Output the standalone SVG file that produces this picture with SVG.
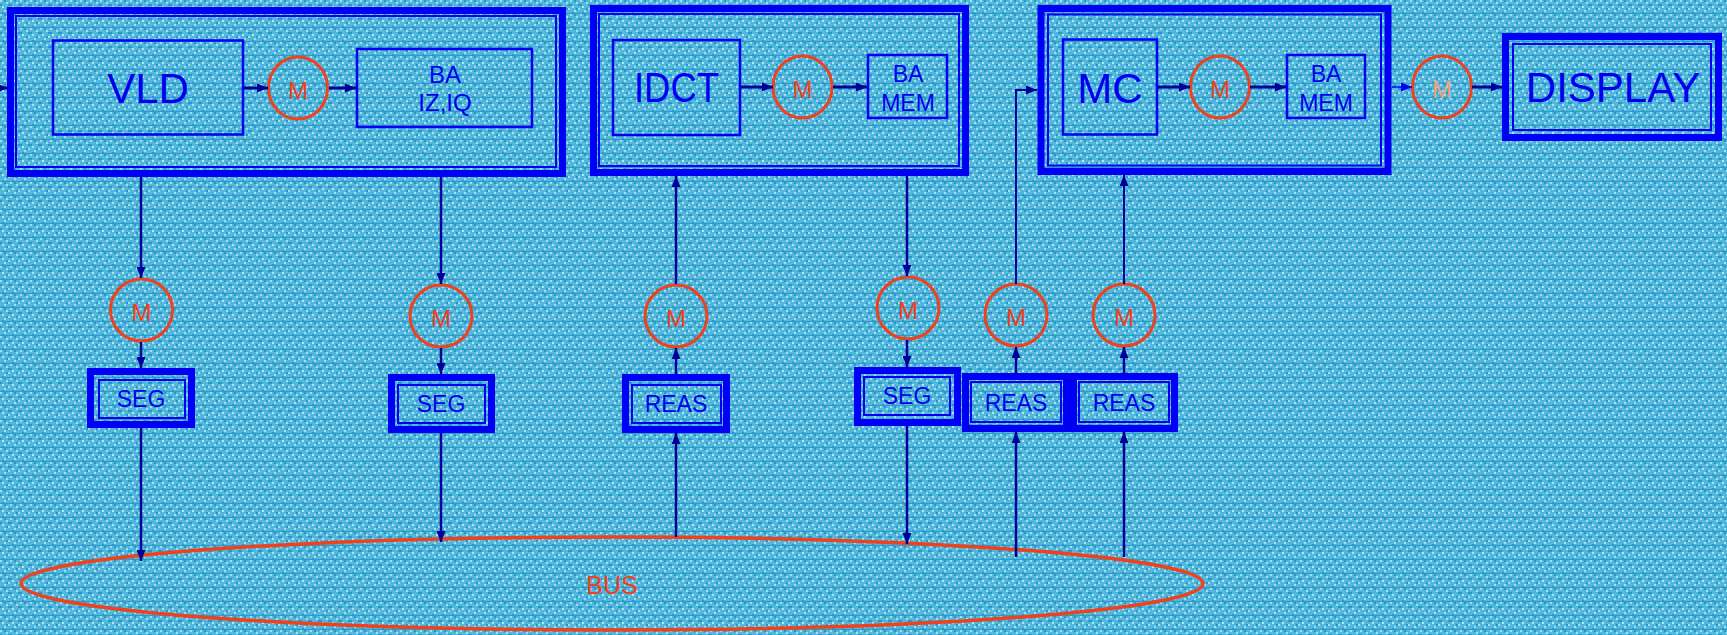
<svg xmlns="http://www.w3.org/2000/svg" width="1727" height="635" viewBox="0 0 1727 635">
<defs>
<style>
text{font-family:"Liberation Sans",Arial,sans-serif}
.thick{fill:none;stroke:#0000f5;stroke-width:7}
.thin{fill:none;stroke:#0000f5;stroke-width:2}
.box{fill:none;stroke:#0000f5;stroke-width:2.5}
.m{fill:none;stroke:#f0401c;stroke-width:3}
.mt{font-size:24px;fill:#f0401c;text-anchor:middle}
.big{font-size:42px;fill:#0000f0;text-anchor:middle}
.mid{font-size:24px;fill:#0000f0;text-anchor:middle}
.sm{font-size:23px;fill:#0000f0;text-anchor:middle}
.c{stroke:#00009a;stroke-width:2.5;fill:none;marker-end:url(#ah)}
.ct{stroke-width:3}
.cb{stroke:#0000f5;stroke-width:1.5;fill:none;marker-end:url(#ahb)}
</style>
<marker id="ah" viewBox="0 0 11 9" refX="11" refY="4.5" markerWidth="11" markerHeight="9" markerUnits="userSpaceOnUse" orient="auto"><path d="M0,0 L11,4.5 L0,9 z" fill="#00009a"/></marker>
<marker id="ahb" viewBox="0 0 11 9" refX="11" refY="4.5" markerWidth="11" markerHeight="9" markerUnits="userSpaceOnUse" orient="auto"><path d="M0,0 L11,4.5 L0,9 z" fill="#0000f5"/></marker>
<pattern id="bg" x="0" y="0" width="10" height="14" patternUnits="userSpaceOnUse">
<rect width="10" height="14" fill="#52b7da"/>
<rect x="0" y="0" width="2" height="2" fill="#a6dcef"/>
<rect x="6" y="2" width="2" height="2" fill="#a6dcef"/>
<rect x="2" y="6" width="2" height="2" fill="#b8e4f2"/>
<rect x="8" y="8" width="2" height="2" fill="#a6dcef"/>
<rect x="4" y="10" width="2" height="2" fill="#a6dcef"/>
<rect x="4" y="0" width="2" height="2" fill="#1f9acb"/>
<rect x="0" y="4" width="2" height="2" fill="#1f9acb"/>
<rect x="8" y="4" width="2" height="2" fill="#1f9acb"/>
<rect x="6" y="8" width="2" height="2" fill="#1f9acb"/>
<rect x="2" y="12" width="2" height="1" fill="#1f9acb"/>
<rect x="0" y="13" width="10" height="1" fill="#2a9ccc"/>
</pattern>
</defs>
<rect width="1727" height="635" fill="url(#bg)"/>

<g id="stage-vld">
<rect class="thick" x="10.5" y="10.5" width="552" height="163"/>
<rect class="thin" x="16" y="16" width="540" height="151"/>
</g>
<g id="vld">
<rect class="box" x="53" y="40.5" width="190" height="94"/>
<text class="big" x="148" y="103">VLD</text>
</g>
<g id="m-vld">
<ellipse class="m" cx="298" cy="88" rx="29.5" ry="31"/>
<text class="mt" x="298" y="98.5">M</text>
</g>
<g id="ba-iziq">
<rect class="box" x="357" y="49" width="175" height="78"/>
<text class="mid" x="445" y="83">BA</text>
<text class="mid" x="445" y="111">IZ,IQ</text>
</g>

<g id="stage-idct">
<rect class="thick" x="593.5" y="8.5" width="372" height="164"/>
<rect class="thin" x="599" y="14" width="360" height="152"/>
</g>
<g id="idct">
<rect class="box" x="613" y="40" width="127" height="95"/>
<text class="big" x="676.5" y="102" textLength="85" lengthAdjust="spacingAndGlyphs">IDCT</text>
</g>
<g id="m-idct">
<ellipse class="m" cx="802.5" cy="87" rx="29.5" ry="31"/>
<text class="mt" x="802.5" y="97.5">M</text>
</g>
<g id="ba-mem-idct">
<rect class="box" x="868" y="55" width="79" height="63"/>
<text class="sm" x="908" y="82">BA</text>
<text class="sm" x="908" y="111">MEM</text>
</g>

<g id="stage-mc">
<rect class="thick" x="1041" y="8.5" width="347" height="163"/>
<rect class="thin" x="1048" y="14.5" width="333" height="151"/>
</g>
<g id="mc">
<rect class="box" x="1063" y="39.5" width="94" height="95"/>
<text class="big" x="1110" y="103">MC</text>
</g>
<g id="m-mc">
<ellipse class="m" cx="1220" cy="87" rx="29.5" ry="31"/>
<text class="mt" x="1220" y="97.5">M</text>
</g>
<g id="ba-mem-mc">
<rect class="box" x="1287" y="55" width="78" height="63"/>
<text class="sm" x="1326" y="82">BA</text>
<text class="sm" x="1326" y="111">MEM</text>
</g>

<g id="m-display">
<ellipse class="m" cx="1442" cy="87" rx="29.5" ry="31"/>
<text class="mt" x="1442" y="97.5" style="fill:#f4a07c">M</text>
</g>
<g id="display">
<rect class="thick" x="1505.5" y="36.5" width="213" height="101"/>
<rect class="thin" x="1513" y="44" width="198" height="86"/>
<text class="big" x="1613" y="102">DISPLAY</text>
</g>

<g id="m-seg1">
<ellipse class="m" cx="141.5" cy="310" rx="31" ry="31"/>
<text class="mt" x="141.5" y="320.5">M</text>
</g>
<g id="seg1">
<rect class="thick" x="90.5" y="371.5" width="101" height="53"/>
<rect class="thin" x="99" y="380" width="86" height="38"/>
<text class="sm" x="141" y="407">SEG</text>
</g>

<g id="m-seg2">
<ellipse class="m" cx="441" cy="316" rx="31" ry="31"/>
<text class="mt" x="441" y="326.5">M</text>
</g>
<g id="seg2">
<rect class="thick" x="391.5" y="377.5" width="100" height="52"/>
<rect class="thin" x="398" y="385" width="87" height="38"/>
<text class="sm" x="441" y="412">SEG</text>
</g>

<g id="m-reas1">
<ellipse class="m" cx="676" cy="316" rx="31" ry="31"/>
<text class="mt" x="676" y="326.5">M</text>
</g>
<g id="reas1">
<rect class="thick" x="625.5" y="377.5" width="101" height="52"/>
<rect class="thin" x="632" y="385" width="89" height="38"/>
<text class="sm" x="676" y="412">REAS</text>
</g>

<g id="m-seg3">
<ellipse class="m" cx="908" cy="308" rx="31" ry="31"/>
<text class="mt" x="908" y="318.5">M</text>
</g>
<g id="seg3">
<rect class="thick" x="857.5" y="370.5" width="100" height="52"/>
<rect class="thin" x="864" y="377" width="86" height="38"/>
<text class="sm" x="907" y="404">SEG</text>
</g>

<g id="m-reas2">
<ellipse class="m" cx="1016" cy="315" rx="31" ry="31"/>
<text class="mt" x="1016" y="325.5">M</text>
</g>
<g id="reas2">
<rect class="thick" x="965.5" y="376.5" width="101" height="52"/>
<rect class="thin" x="971" y="382" width="90" height="40"/>
<text class="sm" x="1016" y="411">REAS</text>
</g>

<g id="m-reas3">
<ellipse class="m" cx="1124" cy="315" rx="31" ry="31"/>
<text class="mt" x="1124" y="325.5">M</text>
</g>
<g id="reas3">
<rect class="thick" x="1073.5" y="376.5" width="101" height="52"/>
<rect class="thin" x="1079" y="382" width="90" height="40"/>
<text class="sm" x="1124" y="411">REAS</text>
</g>

<g id="bus">
<ellipse cx="612" cy="583.5" rx="591" ry="46.5" fill="none" stroke="#f0401c" stroke-width="3.5"/>
<text x="612" y="594" style="font-size:25px;fill:#f0401c;text-anchor:middle">BUS</text>
</g>

<g id="connectors">
<path class="c ct" d="M-5 88 H8"/>
<path class="c ct" d="M244 88 H268"/>
<path class="c ct" d="M329 88 H356"/>
<path class="c ct" d="M741 87 H773"/>
<path class="c ct" d="M833 87 H867"/>
<path class="c ct" d="M1158 87 H1190"/>
<path class="c ct" d="M1250 87 H1286"/>
<path class="cb" d="M1392 87 H1412"/>
<path class="c ct" d="M1472 87 H1502"/>

<path class="c" d="M141 177 V278"/>
<path class="c" d="M141 342 V368"/>
<path class="c" d="M141 428 V561"/>

<path class="c" d="M441 177 V284"/>
<path class="c" d="M441 348 V374"/>
<path class="c" d="M441 433 V542"/>

<path class="c" d="M676 537 V433"/>
<path class="c" d="M676 374 V348"/>
<path class="c" d="M676 284 V176"/>

<path class="c" d="M907 176 V276"/>
<path class="c" d="M907 340 V367"/>
<path class="c" d="M907 426 V544"/>

<path class="c" d="M1016 557 V432"/>
<path class="c" d="M1016 373 V347"/>
<path class="c" style="stroke-width:2" d="M1016 284 V90 H1037"/>

<path class="c" d="M1124 557 V432"/>
<path class="c" d="M1124 373 V347"/>
<path class="c" style="stroke-width:2" d="M1124 284 V175"/>
</g>
</svg>
